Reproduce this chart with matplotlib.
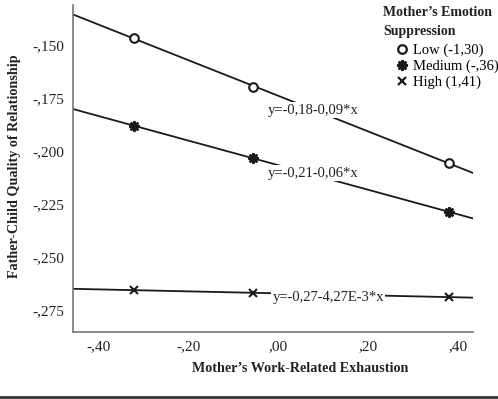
import numpy as np
import matplotlib
matplotlib.use("Agg")
import matplotlib.pyplot as plt
from matplotlib.lines import Line2D

plt.rcParams['font.family'] = ['Liberation Serif', 'DejaVu Serif']

# exhaustion values (-1 SD, mean, +1 SD)
x_pts = [-0.32, -0.055, 0.38]
low = [-0.1467, -0.1698, -0.2057]
medium = [-0.1882, -0.2033, -0.2288]
high = [-0.2656, -0.2670, -0.2689]

groups = ["Low (-1,30)", "Medium (-,36)", "High (1,41)"]
equations = ["y=-0,18-0,09*x", "y=-0,21-0,06*x", "y=-0,27-4,27E-3*x"]
eq_pos = [(-0.024, -0.1807), (-0.024, -0.2104), (-0.013, -0.2689)]

xticks = [-0.4, -0.2, 0.0, 0.2, 0.4]
xtick_labels = ["-,40", "-,20", ",00", ",20", ",40"]
yticks = [-0.150, -0.175, -0.200, -0.225, -0.250, -0.275]
ytick_labels = ["-,150", "-,175", "-,200", "-,225", "-,250", "-,275"]

star = (8, 1, 0)
markers = ['o', star, 'x']
msizes = [6.2, 7.5, 6]

fig = plt.figure(figsize=(4.98, 3.99), dpi=100)
ax = fig.add_axes([73 / 498, 1 - 332 / 399, 400 / 498, 327 / 399])

xlim = (-0.456, 0.433)
ax.set_xlim(*xlim)
ax.set_ylim(-0.2854, -0.1311)

xx = np.array(xlim)
for ys, m, ms in zip([low, medium, high], markers, msizes):
    k, b = np.polyfit(x_pts, ys, 1)
    ax.plot(xx, k * xx + b, color='#1a1a1a', lw=1.3, zorder=1)
    ax.plot(x_pts, ys, linestyle='none', marker=m, ms=ms, mew=1.5,
            mec='#1a1a1a', mfc='white' if m == 'o' else '#1a1a1a', zorder=3)

for eq, (ex, ey) in zip(equations, eq_pos):
    ax.text(ex, ey, eq, ha='left', va='center', fontsize=10.5, color='#222222',
            bbox=dict(facecolor='white', edgecolor='none', pad=1), zorder=2)

ax.set_xticks(xticks)
ax.set_xticklabels(xtick_labels)
ax.set_yticks(yticks)
ax.set_yticklabels(ytick_labels)
ax.tick_params(length=0, labelsize=11, colors='#222222')
ax.tick_params(axis='y', pad=6)
ax.tick_params(axis='x', pad=6)
for s in ['top', 'right']:
    ax.spines[s].set_visible(False)
for s in ['left', 'bottom']:
    ax.spines[s].set_color('#777777')
    ax.spines[s].set_linewidth(1.2)

fig.text(300 / 498, 1 - 368 / 399, "Mother\u2019s Work-Related Exhaustion",
         ha='center', va='center', fontsize=10.2, fontweight='bold', color='#222222')
fig.text(15 / 498, 1 - 166 / 399, "Father-Child Quality of Relationship",
         ha='center', va='center', rotation=90, fontsize=10.2, fontweight='bold',
         color='#222222')

# legend
fig.text(383 / 498, 1 - 13 / 399, "Mother\u2019s Emotion", ha='left',
         va='center', fontsize=10, fontweight='bold', color='#222222')
fig.text(383 / 498, 1 - 31 / 399, "Suppression", ha='left',
         va='center', fontsize=10, fontweight='bold', color='#222222')
handles = [Line2D([], [], linestyle='none', marker=m, ms=ms, mew=1.6,
                  mec='#1a1a1a', mfc='white' if m == 'o' else '#1a1a1a')
           for m, ms in zip(markers, msizes)]
fig.legend(handles, groups, loc='upper left', bbox_to_anchor=(396 / 498, 1 - 44 / 399),
           frameon=False, fontsize=10.5, handlelength=0.8, handletextpad=0.35,
           labelspacing=0.15, borderpad=0, borderaxespad=0)

# separator rule under the figure
fig.add_artist(Line2D([0, 1], [1 - 397 / 399] * 2, color='#333333', lw=2))

fig.savefig("out.png", dpi=100)
